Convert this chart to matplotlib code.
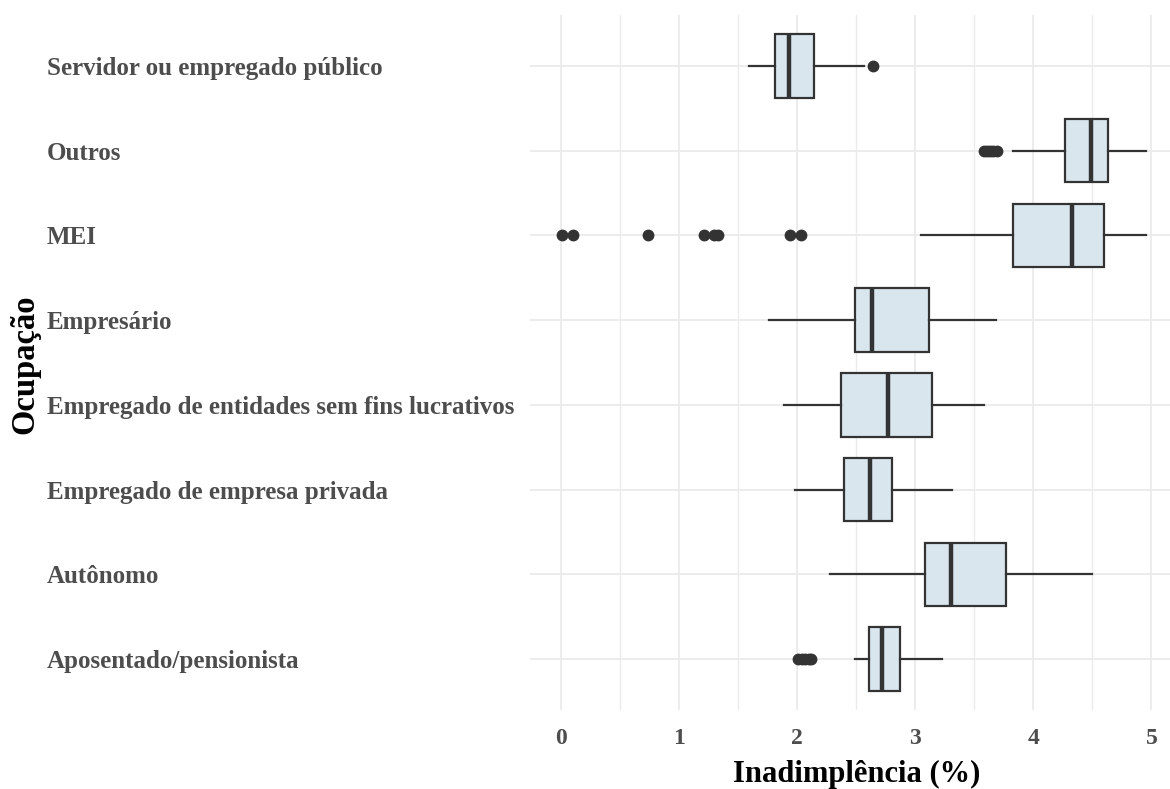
import matplotlib
matplotlib.use("Agg")
import matplotlib.pyplot as plt
from matplotlib.ticker import MultipleLocator
from matplotlib.transforms import blended_transform_factory

# Occupations, bottom to top
categories = [
    "Aposentado/pensionista",
    "Autônomo",
    "Empregado de empresa privada",
    "Empregado de entidades sem fins lucrativos",
    "Empresário",
    "MEI",
    "Outros",
    "Servidor ou empregado público",
]

# Five-number summaries of default rates (%)
whisker_low = [2.49, 2.28, 1.98, 1.89, 1.76, 3.05, 3.83, 1.59]
q1 = [2.61, 3.08, 2.40, 2.37, 2.49, 3.83, 4.27, 1.81]
median = [2.72, 3.30, 2.62, 2.77, 2.63, 4.33, 4.49, 1.93]
q3 = [2.87, 3.77, 2.80, 3.14, 3.12, 4.60, 4.63, 2.14]
whisker_high = [3.23, 4.50, 3.31, 3.58, 3.68, 4.95, 4.95, 2.57]

# Outlying observations
outliers = [
    [2.01, 2.04, 2.07, 2.10, 2.12],
    [],
    [],
    [],
    [],
    [0.01, 0.10, 0.74, 1.21, 1.30, 1.33, 1.94, 2.03],
    [3.58, 3.61, 3.63, 3.66, 3.69],
    [2.64],
]

x_ticks = [0, 1, 2, 3, 4, 5]

W, H, DPI = 1170, 789, 100
fig = plt.figure(figsize=(W / DPI, H / DPI), dpi=DPI)
ax = fig.add_axes([530 / W, 1 - 710 / H, 640 / W, 695 / H])

serif = ["Liberation Serif", "DejaVu Serif"]
dark = "#333333"
grey_text = "#4d4d4d"

stats = []
for i, name in enumerate(categories):
    stats.append(dict(
        label=name,
        whislo=whisker_low[i], q1=q1[i], med=median[i],
        q3=q3[i], whishi=whisker_high[i], fliers=outliers[i],
    ))

positions = list(range(len(categories)))
ax.bxp(
    stats, positions=positions, vert=False, widths=0.75, patch_artist=True,
    showcaps=False,
    boxprops=dict(facecolor="#dae6ee", edgecolor=dark, linewidth=1.6),
    medianprops=dict(color=dark, linewidth=3.2, solid_capstyle="butt"),
    whiskerprops=dict(color=dark, linewidth=1.6),
    flierprops=dict(marker="o", markerfacecolor=dark, markeredgecolor=dark,
                    markersize=7.5, linestyle="none"),
    zorder=3,
)

ax.set_xlim(-0.262, 5.157)
ax.set_ylim(-0.6, len(categories) - 0.4)
ax.set_xticks(x_ticks)
ax.xaxis.set_minor_locator(MultipleLocator(0.5))
ax.set_yticks(positions)
ax.set_yticklabels([])

for s in ax.spines.values():
    s.set_visible(False)
ax.grid(True, which="major", color="#ebebeb", linewidth=1.3, zorder=0)
ax.grid(True, which="minor", axis="x", color="#ebebeb", linewidth=1.0, zorder=0)
ax.set_axisbelow(True)
ax.tick_params(axis="both", which="both", length=0)
ax.tick_params(axis="x", pad=13)

for lab in ax.get_xticklabels():
    lab.set_fontfamily(serif)
    lab.set_fontweight("bold")
    lab.set_fontsize(17)
    lab.set_color(grey_text)

# Category labels, left-aligned in the margin
label_tf = blended_transform_factory(fig.transFigure, ax.transData)
for pos, name in zip(positions, categories):
    ax.text(47 / W, pos, name, transform=label_tf, ha="left",
            va="center_baseline", fontfamily=serif, fontweight="bold",
            fontsize=18, color=grey_text, clip_on=False)

ax.set_xlabel("Inadimplência (%)", fontfamily=serif, fontweight="bold",
              fontsize=22, color="black", labelpad=8)
ax.xaxis.label.set_x(0.51)
fig.text(25 / W, 1 - 364 / H, "Ocupação", rotation=90, ha="center", va="center",
         fontfamily=serif, fontweight="bold", fontsize=23.5, color="black")

fig.savefig("out.png", dpi=DPI)
